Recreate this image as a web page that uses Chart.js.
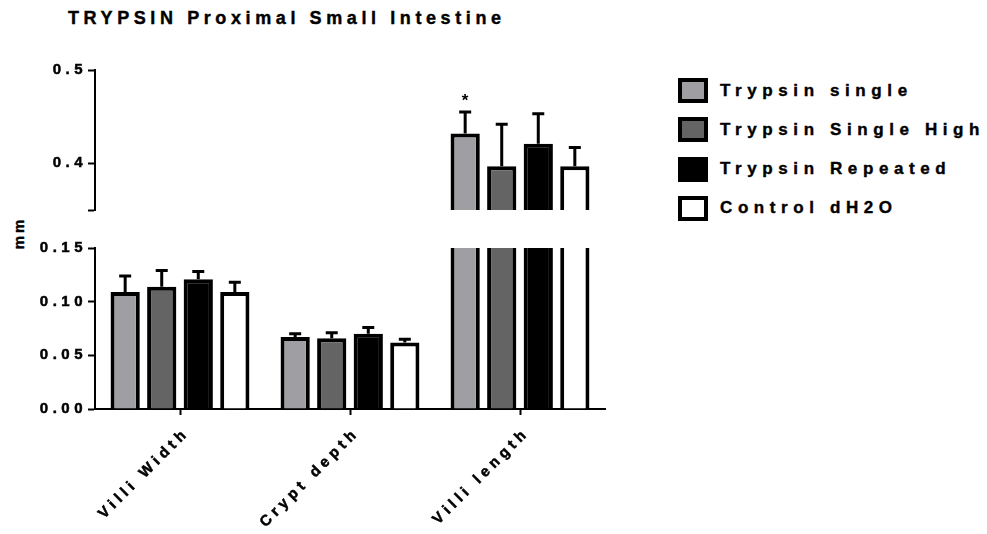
<!DOCTYPE html>
<html>
<head>
<meta charset="utf-8">
<script src="https://cdn.jsdelivr.net/npm/chart.js@4.4.1/dist/chart.umd.min.js"></script>
<style>
  html, body { margin: 0; padding: 0; background: #fff; }
  #wrap { position: relative; width: 987px; height: 534px; overflow: hidden; font-family: 'Liberation Sans', Arial, sans-serif; font-weight: bold; color: #000; -webkit-text-stroke: 0.4px #000; }
  #title { position: absolute; left: 68px; top: 8px; font-size: 18px; letter-spacing: 4.6px; white-space: nowrap; }
  #yTitle { position: absolute; left: 18px; top: 233px; font-size: 15px; letter-spacing: 3px; transform: translate(-50%, -50%) rotate(-90deg); white-space: nowrap; }
  .box { position: absolute; left: 0; width: 620px; }
  #upperBox { top: 50px; height: 170px; }
  #lowerBox { top: 230px; height: 304px; }
  #legend { position: absolute; left: 678px; top: 78px; }
  .legend-row { display: flex; align-items: center; height: 25px; margin-bottom: 14.3px; }
  .legend-swatch { box-sizing: border-box; width: 30px; height: 25px; border: 4px solid #000; }
  .legend-text { margin-left: 12px; font-size: 17px; letter-spacing: 5.6px; white-space: nowrap; }
</style>
</head>
<body>
<div id="wrap">
  <div id="title">TRYPSIN Proximal Small Intestine</div>
  <div id="yTitle">mm</div>
  <div class="box" id="upperBox"><canvas id="upperChart"></canvas></div>
  <div class="box" id="lowerBox"><canvas id="lowerChart"></canvas></div>
  <div id="legend"></div>
</div>
<script>
const categories = ['Villi Width', 'Crypt depth', 'Villi length'];

const seriesNames = ['Trypsin single', 'Trypsin Single High', 'Trypsin Repeated', 'Control dH2O'];
const seriesColors = ['#9e9ea3', '#646464', '#000000', '#ffffff'];

const trypsinSingle = [0.109, 0.067, 0.432];
const trypsinSingleHigh = [0.114, 0.066, 0.397];
const trypsinRepeated = [0.121, 0.070, 0.421];
const controlDH2O = [0.109, 0.062, 0.397];

const trypsinSingleErr = [0.015, 0.003, 0.023];
const trypsinSingleHighErr = [0.015, 0.005, 0.045];
const trypsinRepeatedErr = [0.007, 0.006, 0.032];
const controlDH2OErr = [0.009, 0.003, 0.020];

const trypsinSingleMarks = ['', '', '*'];
const trypsinSingleHighMarks = ['', '', ''];
const trypsinRepeatedMarks = ['', '', ''];
const controlDH2OMarks = ['', '', ''];

const lowerTicks = [0, 0.05, 0.10, 0.15];
const lowerTickLabels = ['0.00', '0.05', '0.10', '0.15'];
const upperTicks = [0.35, 0.4, 0.5];
const upperTickLabels = ['', '0.4', '0.5'];

const seriesValues = [trypsinSingle, trypsinSingleHigh, trypsinRepeated, controlDH2O];
const seriesErrors = [trypsinSingleErr, trypsinSingleHighErr, trypsinRepeatedErr, controlDH2OErr];
const seriesMarks = [trypsinSingleMarks, trypsinSingleHighMarks, trypsinRepeatedMarks, controlDH2OMarks];

const FONT = "'Liberation Sans', Arial, sans-serif";
const AXIS_LEFT = 95;

function spacingPlugin(px) {
  return {
    id: 'spacing',
    beforeUpdate(chart) { chart.ctx.letterSpacing = px + 'px'; },
    beforeDraw(chart) { chart.ctx.letterSpacing = px + 'px'; }
  };
}

// error bars (upper half only) and significance marks
const errorBars = {
  id: 'errorBars',
  afterDatasetsDraw(chart) {
    const { ctx, chartArea } = chart;
    const yScale = chart.scales.y;
    ctx.save();
    ctx.beginPath();
    ctx.rect(0, chartArea.top - 40, chart.width, chartArea.bottom - chartArea.top + 40);
    ctx.clip();
    chart.data.datasets.forEach((ds, i) => {
      const meta = chart.getDatasetMeta(i);
      meta.data.forEach((bar, j) => {
        const v = ds.data[j];
        if (v === null || v > yScale.max) return;
        const top = yScale.getPixelForValue(v + ds.errors[j]);
        ctx.strokeStyle = '#000';
        ctx.lineWidth = 3;
        ctx.beginPath();
        ctx.moveTo(bar.x, bar.y);
        ctx.lineTo(bar.x, top);
        ctx.moveTo(bar.x - 6, top);
        ctx.lineTo(bar.x + 6, top);
        ctx.stroke();
        if (ds.marks[j]) {
          ctx.fillStyle = '#000';
          ctx.font = 'bold 17px ' + FONT;
          ctx.letterSpacing = '0px';
          ctx.textAlign = 'center';
          ctx.textBaseline = 'middle';
          ctx.fillText(ds.marks[j], bar.x, top - 11);
        }
      });
    });
    ctx.restore();
  }
};

function makeDatasets(filter) {
  return seriesNames.map((name, i) => ({
    label: name,
    data: seriesValues[i].map(filter),
    errors: seriesErrors[i],
    marks: seriesMarks[i],
    backgroundColor: seriesColors[i],
    borderColor: '#000',
    borderWidth: 4,
    borderSkipped: 'start',
    categoryPercentage: 0.86,
    barPercentage: 0.8,
    clip: 0
  }));
}

const tickFont = { family: FONT, size: 15, weight: 'bold' };

function yAxis(min, max, ticks, labels) {
  return {
    min,
    max,
    afterBuildTicks: (scale) => { scale.ticks = ticks.map((value) => ({ value })); },
    afterFit: (scale) => { scale.width = AXIS_LEFT; },
    ticks: {
      color: '#000',
      font: tickFont,
      textStrokeColor: '#000',
      textStrokeWidth: 0.5,
      padding: 1,
      callback: (value) => labels[ticks.indexOf(value)] ?? ''
    },
    grid: { display: true, drawOnChartArea: false, drawTicks: true, tickLength: 7, tickWidth: 2, tickColor: '#000' },
    border: { display: true, color: '#000', width: 2 }
  };
}

new Chart(document.getElementById('upperChart'), {
  type: 'bar',
  data: {
    labels: categories,
    datasets: makeDatasets((v) => (v >= upperTicks[0] ? v : null))
  },
  options: {
    responsive: true,
    maintainAspectRatio: false,
    animation: false,
    layout: { padding: { top: 20, bottom: 10, right: 15, left: 0 } },
    plugins: { legend: { display: false }, tooltip: { enabled: false } },
    scales: {
      x: { display: false },
      y: yAxis(0.35, 0.5, upperTicks, upperTickLabels)
    }
  },
  plugins: [spacingPlugin(4.5), errorBars]
});

new Chart(document.getElementById('lowerChart'), {
  type: 'bar',
  data: {
    labels: categories,
    datasets: makeDatasets((v) => v)
  },
  options: {
    responsive: true,
    maintainAspectRatio: false,
    animation: false,
    layout: { padding: { top: 18, bottom: 0, right: 15, left: 0 } },
    plugins: { legend: { display: false }, tooltip: { enabled: false } },
    scales: {
      x: {
        afterFit: (scale) => { scale.height = 125; },
        ticks: {
          color: '#000',
          font: tickFont,
          textStrokeColor: '#000',
          textStrokeWidth: 0.5,
          minRotation: 45,
          maxRotation: 45,
          padding: 9,
          labelOffset: 7
        },
        grid: { display: true, offset: false, drawOnChartArea: false, drawTicks: true, tickLength: 6, tickWidth: 2, tickColor: '#000' },
        border: { display: true, color: '#000', width: 2 }
      },
      y: yAxis(0, 0.15, lowerTicks, lowerTickLabels)
    }
  },
  plugins: [spacingPlugin(4.5), errorBars]
});

document.getElementById('legend').innerHTML = seriesNames
  .map((name, i) => `<div class="legend-row"><span class="legend-swatch" style="background:${seriesColors[i]}"></span><span class="legend-text">${name}</span></div>`)
  .join('');
</script>
</body>
</html>
